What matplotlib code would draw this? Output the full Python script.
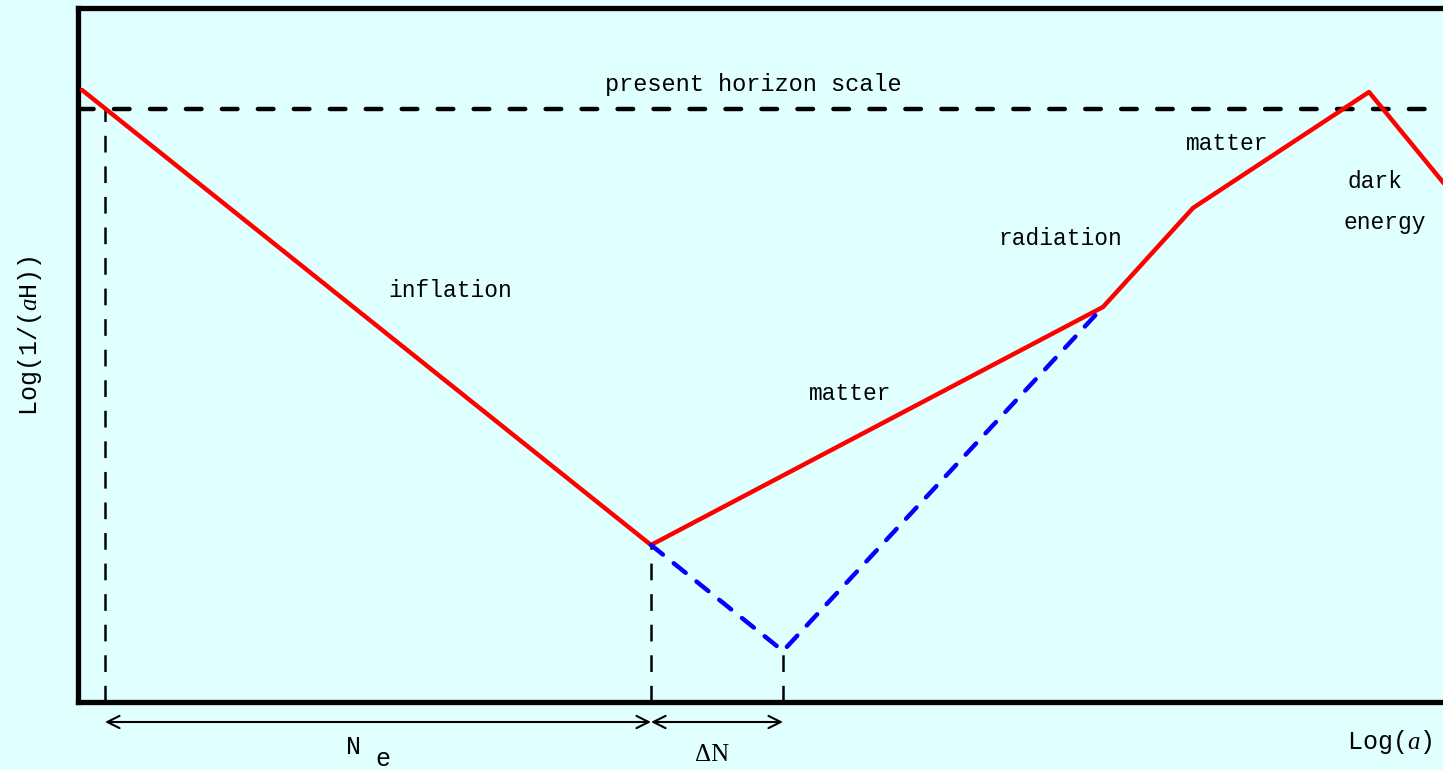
import matplotlib
matplotlib.use("Agg")
import matplotlib.pyplot as plt

plt.rcParams['font.family'] = ['Liberation Mono', 'DejaVu Sans']
plt.rcParams['mathtext.fontset'] = 'custom'
plt.rcParams['mathtext.rm'] = 'Liberation Mono'
plt.rcParams['mathtext.it'] = 'Liberation Serif:italic'
plt.rcParams['lines.scale_dashes'] = False

BG = '#E0FFFF'

# Data (pixel-derived coordinates: x = log a, y = log 1/(aH))
red_x = [82, 651, 1103, 1193, 1369, 1460]
red_y = [680, 225, 463, 562, 678, 567]
blue_x = [651, 783, 1103]
blue_y = [225, 119, 463]
horizon_y = 661
ne_start, ne_end, dn_end = 105, 651, 783
end_inflation_y = 225
dn_y = 119

labels = [
    ("present horizon scale", 753, 686, 17),
    ("inflation", 450, 480, 16.5),
    ("matter", 850, 377, 16.5),
    ("radiation", 1060, 532, 16.5),
    ("matter", 1227, 627, 16.5),
    ("dark", 1375, 589, 16.5),
    ("energy", 1385, 548, 16.5),
]

fig = plt.figure(figsize=(14.43, 7.7), dpi=100, facecolor=BG)
x0, x1 = 78, 1460
y0, y1 = 68, 762
ax = fig.add_axes([x0 / 1443, y0 / 770, (x1 - x0) / 1443, (y1 - y0) / 770])
ax.set_facecolor(BG)
ax.set_xlim(x0, x1)
ax.set_ylim(y0, y1)
ax.set_xticks([])
ax.set_yticks([])
for s in ['left', 'bottom', 'top']:
    ax.spines[s].set_linewidth(3.8)
    ax.spines[s].set_capstyle('projecting')
ax.spines['right'].set_visible(False)

ax.plot(red_x, red_y, color='#FF0000', lw=3.2, solid_joinstyle='round',
        solid_capstyle='round', zorder=3)
ax.plot(blue_x, blue_y, color='#0000FF', lw=3.2, dashes=(11, 10),
        dash_capstyle='round', zorder=3)
ax.axhline(horizon_y, color='black', lw=3.2, dashes=(11.2, 14.7),
           dash_capstyle='round', zorder=2)

for xv, ytop in [(ne_start, horizon_y), (ne_end, end_inflation_y), (dn_end, dn_y)]:
    ax.plot([xv, xv], [y0, ytop], color='black', lw=1.8, dashes=(12, 10), zorder=2)

arr_y = 48
ap = dict(arrowstyle='<->', lw=1.5, color='black', mutation_scale=22, shrinkA=0, shrinkB=0)
ax.annotate('', xy=(ne_start, arr_y), xytext=(ne_end, arr_y), arrowprops=ap, annotation_clip=False)
ax.annotate('', xy=(ne_end, arr_y), xytext=(dn_end, arr_y), arrowprops=ap, annotation_clip=False)

for t, x, y, fs in labels:
    ax.text(x, y, t, ha='center', va='center', fontsize=fs, zorder=4)

ax.text(354, 23, 'N', ha='center', va='center', fontsize=18, clip_on=False)
ax.text(383, 11, 'e', ha='center', va='center', fontsize=18, clip_on=False)
ax.text(712, 15, 'ΔN', ha='center', va='center', fontsize=18, clip_on=False,
        family=['Liberation Serif', 'DejaVu Sans'])
fig.text(1390 / 1443, 1 - 742 / 770, r'Log($\it{a}$)', ha='center', va='center', fontsize=18)
fig.text(30 / 1443, 1 - 336 / 770, r'Log(1/($\it{a}$H))', ha='center', va='center',
         fontsize=18, rotation=90)

fig.savefig('out.png', dpi=100, facecolor=BG)
